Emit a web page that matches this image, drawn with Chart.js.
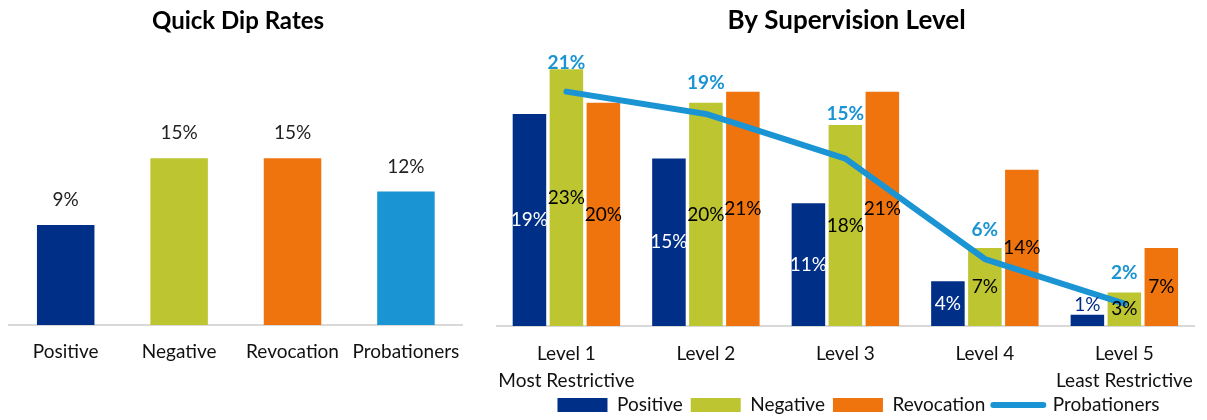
<!DOCTYPE html>
<html>
<head>
<meta charset="utf-8">
<script src="https://cdn.jsdelivr.net/npm/chart.js@4.4.1/dist/chart.umd.min.js"></script>
<style>
  html, body { margin: 0; padding: 0; background: #ffffff; overflow: hidden; }
  #left { position: absolute; left: 0; top: 0; width: 476px; height: 420px; }
  #right { position: absolute; left: 484px; top: 0; width: 723px; height: 425px; }
</style>
</head>
<body>
<div id="left"><canvas id="c1" width="476" height="420"></canvas></div>
<div id="right"><canvas id="c2" width="723" height="425"></canvas></div>
<script>
// ---- data ----
const quickCategories = ['Positive', 'Negative', 'Revocation', 'Probationers'];
const quickRates = [9, 15, 15, 12];

const levelLabels = [['Level 1', 'Most Restrictive'], ['Level 2'], ['Level 3'], ['Level 4'], ['Level 5', 'Least Restrictive']];
const positiveByLevel = [19, 15, 11, 4, 1];
const negativeByLevel = [23, 20, 18, 7, 3];
const revocationByLevel = [20, 21, 21, 14, 7];
const probationersByLevel = [21, 19, 15, 6, 2];

// ---- styles ----
const NAVY = '#002F87';
const LIME = '#BDC531';
const ORANGE = '#F0740E';
const SKY = '#1A94D3';
const FONT = 'Lato';

function makeCharts() {
  Chart.defaults.font.family = FONT;
  Chart.defaults.color = '#111111';

  const quickLabelPlugin = {
    id: 'quickLabels',
    afterDatasetsDraw(chart) {
      const ctx = chart.ctx;
      ctx.save();
      ctx.font = '19px ' + FONT;
      ctx.textAlign = 'center';
      ctx.textBaseline = 'middle';
      ctx.fillStyle = '#222222';
      const ds = chart.data.datasets[0];
      chart.getDatasetMeta(0).data.forEach((el, j) => {
        ctx.fillText(ds.data[j] + '%', el.x, el.y - 25);
      });
      ctx.restore();
    }
  };

  new Chart(document.getElementById('c1'), {
    type: 'bar',
    data: {
      labels: quickCategories,
      datasets: [{
        label: 'Quick Dip Rates',
        data: quickRates,
        backgroundColor: [NAVY, LIME, ORANGE, SKY],
        borderWidth: 0,
        categoryPercentage: 1,
        barPercentage: 0.507
      }]
    },
    options: {
      responsive: false,
      devicePixelRatio: 1,
      animation: false,
      events: [],
      layout: { padding: { left: 9, right: 9, top: 0, bottom: 56.6 } },
      plugins: {
        legend: { display: false },
        tooltip: { enabled: false },
        title: {
          display: true,
          text: 'Quick Dip Rates',
          color: '#000000',
          font: { size: 24, weight: 'bold', family: FONT, lineHeight: 1.25 },
          padding: { top: 6, bottom: 11 }
        }
      },
      scales: {
        x: {
          grid: { display: false, drawTicks: false },
          border: { display: true, color: '#d9d9d9', width: 2 },
          ticks: { padding: 15.6, color: '#111111', font: { size: 19, lineHeight: 1.2 } },
          afterFit(scale) { scale.height = 38.4; }
        },
        y: { display: false, min: 0, max: 25 }
      }
    },
    plugins: [quickLabelPlugin]
  });

  const lineLabelOffsets = [29, 31, 45, 29, 31];
  const barLabelColors = ['#ffffff', '#000000', '#000000'];

  const levelLabelPlugin = {
    id: 'levelLabels',
    afterLayout(chart) {
      if (chart.legend) { chart.legend.left += 12; chart.legend.right += 12; }
    },
    afterDatasetsDraw(chart) {
      const ctx = chart.ctx;
      ctx.save();
      ctx.textAlign = 'center';
      ctx.textBaseline = 'middle';
      chart.data.datasets.forEach((ds, i) => {
        const meta = chart.getDatasetMeta(i);
        meta.data.forEach((el, j) => {
          const txt = ds.data[j] + '%';
          if (meta.type === 'bar') {
            ctx.font = '19px ' + FONT;
            const h = el.base - el.y;
            if (h < 20) {
              ctx.fillStyle = ds.backgroundColor;
              ctx.fillText(txt, el.x, el.y - 10);
            } else {
              ctx.fillStyle = barLabelColors[i];
              ctx.fillText(txt, el.x, (el.y + el.base) / 2);
            }
          } else {
            ctx.font = 'bold 19px ' + FONT;
            ctx.fillStyle = ds.borderColor;
            ctx.fillText(txt, el.x, el.y - lineLabelOffsets[j]);
          }
        });
      });
      ctx.restore();
    }
  };

  new Chart(document.getElementById('c2'), {
    type: 'bar',
    data: {
      labels: levelLabels,
      datasets: [
        { label: 'Positive', data: positiveByLevel, backgroundColor: NAVY, borderWidth: 0, categoryPercentage: 0.795, barPercentage: 0.907, order: 1 },
        { label: 'Negative', data: negativeByLevel, backgroundColor: LIME, borderWidth: 0, categoryPercentage: 0.795, barPercentage: 0.907, order: 1 },
        { label: 'Revocation', data: revocationByLevel, backgroundColor: ORANGE, borderWidth: 0, categoryPercentage: 0.795, barPercentage: 0.907, order: 1 },
        { type: 'line', label: 'Probationers', data: probationersByLevel, borderColor: SKY, backgroundColor: SKY,
          borderWidth: 6, pointRadius: 0, tension: 0, borderCapStyle: 'round', borderJoinStyle: 'round', fill: false, order: 0 }
      ]
    },
    options: {
      responsive: false,
      devicePixelRatio: 1,
      animation: false,
      events: [],
      layout: { padding: { left: 9, right: 7, top: 0, bottom: 0.5 } },
      plugins: {
        tooltip: { enabled: false },
        title: {
          display: true,
          text: 'By Supervision Level',
          color: '#000000',
          font: { size: 26, weight: 'bold', family: FONT, lineHeight: 1.154 },
          padding: { top: 6, bottom: 11 }
        },
        legend: {
          display: true,
          position: 'bottom',
          labels: {
            color: '#111111',
            font: { size: 19, family: FONT },
            usePointStyle: true,
            pointStyleWidth: 50,
            boxWidth: 50,
            boxHeight: 14,
            padding: 8,
            sort: (a, b) => a.datasetIndex - b.datasetIndex,
            generateLabels(chart) {
              return chart.data.datasets.map((ds, i) => {
                const isLine = ds.type === 'line';
                return {
                  text: ds.label,
                  datasetIndex: i,
                  fillStyle: isLine ? 'rgba(0,0,0,0)' : ds.backgroundColor,
                  strokeStyle: isLine ? ds.borderColor : ds.backgroundColor,
                  lineWidth: isLine ? 6 : 0,
                  lineCap: isLine ? 'round' : 'butt',
                  pointStyle: isLine ? 'line' : 'rect',
                  fontColor: '#111111',
                  hidden: false,
                  rotation: 0
                };
              });
            }
          }
        }
      },
      scales: {
        x: {
          grid: { display: false, drawTicks: false },
          border: { display: true, color: '#d9d9d9', width: 2 },
          ticks: { padding: 14, color: '#111111', font: { size: 19, lineHeight: 1.43 }, autoSkip: false, maxRotation: 0 },
          afterFit(scale) { scale.height = 61.5; }
        },
        y: { display: false, min: 0, max: 25 }
      }
    },
    plugins: [levelLabelPlugin]
  });
}

if (document.fonts && document.fonts.load) {
  Promise.all([document.fonts.load('19px Lato'), document.fonts.load('bold 25px Lato')])
    .then(makeCharts, makeCharts);
} else {
  makeCharts();
}
</script>
</body>
</html>
